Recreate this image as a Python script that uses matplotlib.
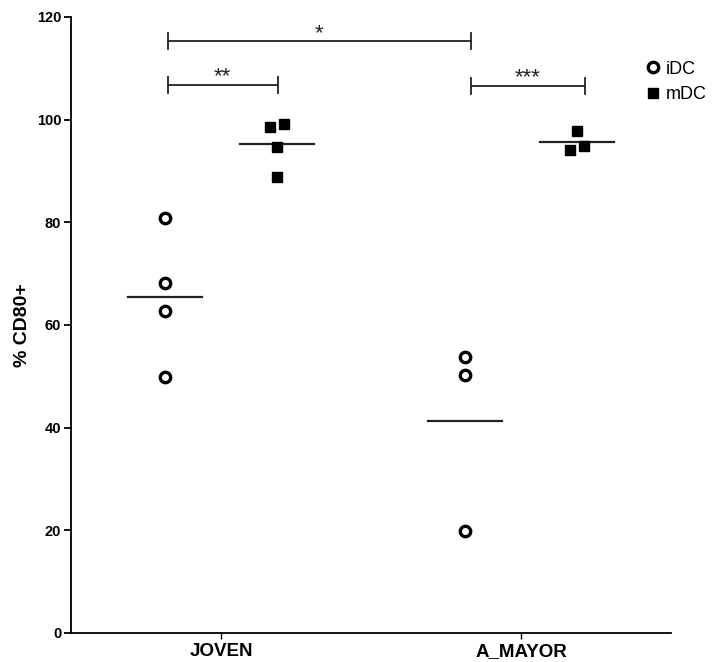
import matplotlib
matplotlib.use("Agg")
import matplotlib.pyplot as plt
import numpy as np

plt.rcParams['font.family'] = ['Liberation Sans', 'DejaVu Sans']

groups = ["JOVEN", "A_MAYOR"]
idc_joven = [80.8, 68.2, 62.7, 49.9]
mdc_joven = [98.6, 99.2, 94.6, 88.9]
idc_mayor = [53.7, 50.3, 19.9]
mdc_mayor = [97.7, 94.9, 94.1]
# small horizontal jitter (in group units) as seen in the picture
mdc_joven_jit = [-0.022, 0.022, 0.0, 0.0]
mdc_mayor_jit = [0.0, 0.022, -0.022]

brackets = [  # (x1, x2, y, label)
    (-0.178, 0.19, 106.8, "**"),
    (0.833, 1.213, 106.6, "***"),
    (-0.178, 0.833, 115.3, "*"),
]

fig = plt.figure(figsize=(7.22, 6.62), dpi=100)
ax = fig.add_axes([71/722, 29/662, 600/722, 616/662])

off = 0.1867
xs = np.arange(len(groups))
idc_data = [idc_joven, idc_mayor]
mdc_data = [mdc_joven, mdc_mayor]
mdc_jit = [mdc_joven_jit, mdc_mayor_jit]

for i, g in enumerate(groups):
    xi = xs[i] - off
    ax.plot([xi]*len(idc_data[i]), idc_data[i], 'o', ms=7.5, mfc='white',
            mec='black', mew=2.4, zorder=3, label='iDC' if i == 0 else None)
    ax.plot(xi + np.array([-0.123, 0.123]), [np.mean(idc_data[i])]*2,
            color='#222222', lw=1.6, zorder=2)
    xm = xs[i] + off
    ax.plot(xm + np.array(mdc_jit[i]), mdc_data[i], 's', ms=6.8, color='black',
            zorder=3, label='mDC' if i == 0 else None)
    ax.plot(xm + np.array([-0.123, 0.123]), [np.mean(mdc_data[i])]*2,
            color='#222222', lw=1.6, zorder=2)

for x1, x2, y, lab in brackets:
    ax.plot([x1, x2], [y, y], color='#222222', lw=1.3, clip_on=False)
    for xx in (x1, x2):
        ax.plot([xx, xx], [y-1.6, y+1.6], color='#222222', lw=1.3, clip_on=False)
    ax.text((x1+x2)/2, y-0.5, lab, ha='center', va='bottom', fontsize=16,
            color='#222222')

ax.set_xlim(-0.5, 1.5)
ax.set_ylim(0, 120)
ax.set_yticks(np.arange(0, 121, 20))
ax.set_xticks(xs)
ax.set_xticklabels(groups, fontsize=13.5, fontweight='bold')
for t in ax.get_yticklabels():
    t.set_fontweight('bold')
    t.set_fontsize(10.5)
ax.set_ylabel("% CD80+", fontsize=14, fontweight='bold', labelpad=4)
ax.spines['top'].set_visible(False)
ax.spines['right'].set_visible(False)
for s in ('left', 'bottom'):
    ax.spines[s].set_linewidth(1.3)
ax.tick_params(axis='y', length=5, width=1.3, pad=2)
ax.tick_params(axis='x', length=4, width=1.0, pad=3)

leg = ax.legend(loc='upper left', bbox_to_anchor=(0.955, 0.929), frameon=False,
                fontsize=13, handletextpad=0.2, labelspacing=0.45,
                handlelength=1.0, borderaxespad=0, borderpad=0)

fig.savefig("out.png", dpi=100)
